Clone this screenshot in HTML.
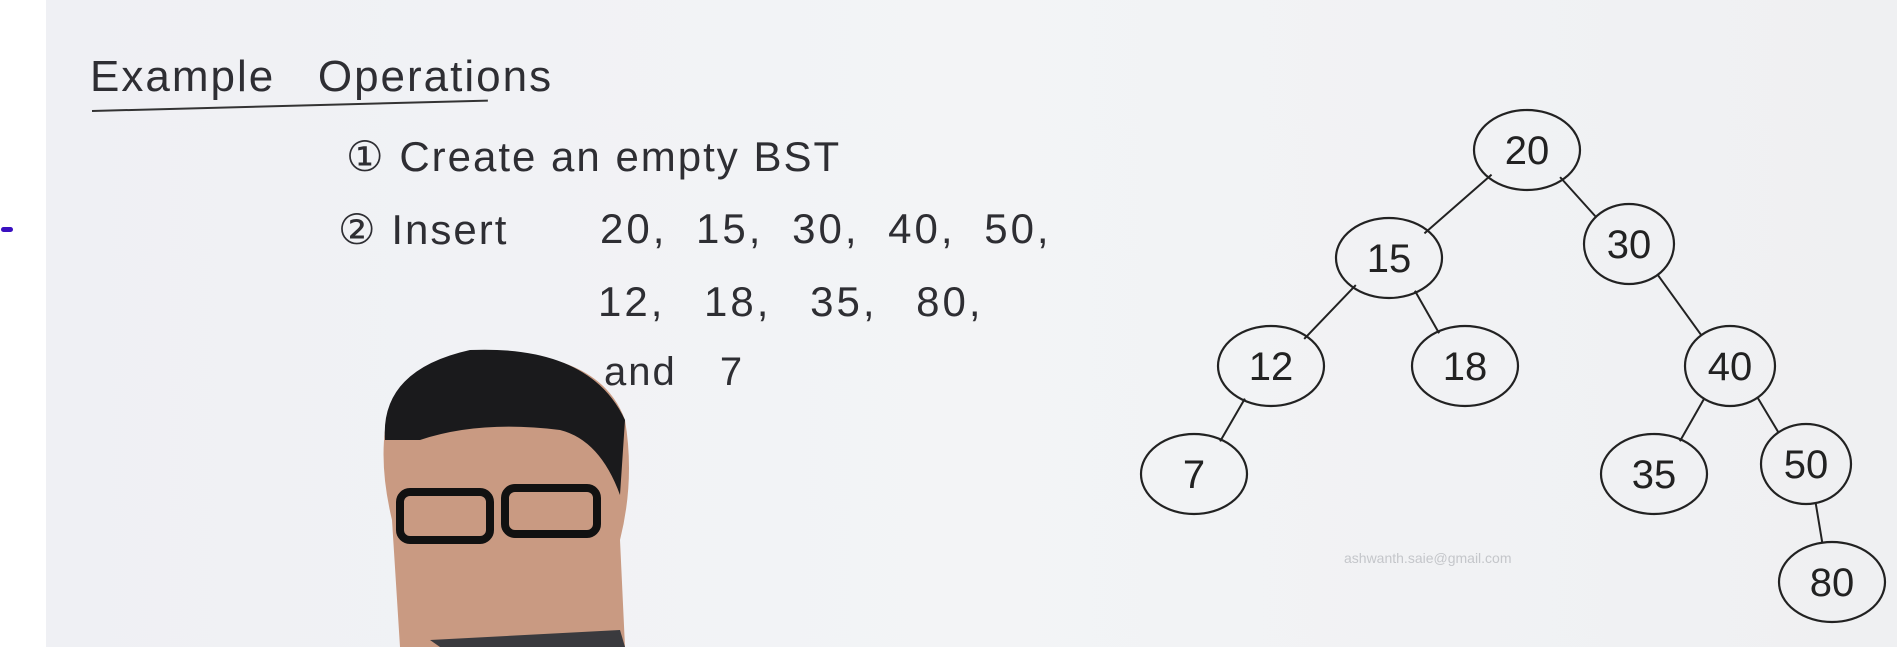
<!DOCTYPE html>
<html><head><meta charset="utf-8"><style>
html,body{margin:0;padding:0}
body{width:1897px;height:647px;overflow:hidden;position:relative;background:#fff;font-family:"Liberation Sans",sans-serif}
#board{position:absolute;left:46px;top:0;width:1851px;height:647px;background:linear-gradient(90deg,#eff0f4,#f3f4f6 50%,#eff0f2)}
.t{position:absolute;color:#2e2e33;white-space:nowrap;font-family:"Liberation Sans",sans-serif;letter-spacing:2px}
</style></head><body>
<div id="board"></div>
<div style="position:absolute;left:1px;top:227px;width:12px;height:5px;border-radius:3px;background:#3a10c0"></div>
<div class="t" style="left:90px;top:52px;font-size:44px;">Example&nbsp;&nbsp; Operations</div>
<div style="position:absolute;left:92px;top:110px;width:396px;height:2px;background:#333;transform:rotate(-1.5deg);transform-origin:left"></div>
<div class="t" style="left:346px;top:132px;font-size:42px;">① Create an empty BST</div>
<div class="t" style="left:338px;top:205px;font-size:42px;">② Insert</div>
<div class="t" style="left:600px;top:205px;font-size:42px;letter-spacing:3px;word-spacing:14px">20, 15, 30, 40, 50,</div>
<div class="t" style="left:598px;top:278px;font-size:42px;letter-spacing:3px;word-spacing:24px">12, 18, 35, 80,</div>
<div class="t" style="left:604px;top:350px;font-size:40px;word-spacing:30px">and 7</div>
<div class="t" style="left:1344px;top:550px;font-size:14px;color:#c4c6ca;letter-spacing:0">ashwanth.saie@gmail.com</div>
<svg style="position:absolute;left:0;top:0" width="1897" height="647">
<path d="M400 647 L392 520 Q380 470 385 430 Q400 360 480 352 Q600 350 625 420 Q635 480 620 540 L625 647Z" fill="#c99a82"/>
<path d="M385 440 Q380 370 470 350 Q590 345 625 420 L620 495 Q600 440 560 430 Q480 420 420 440Z" fill="#1a1a1c"/>
<rect x="400" y="492" width="90" height="48" rx="10" fill="none" stroke="#111" stroke-width="8"/>
<rect x="505" y="488" width="92" height="46" rx="10" fill="none" stroke="#111" stroke-width="8"/>
<path d="M430 640 L440 647 L625 647 L620 630Z" fill="#3a3a3e"/>
</svg>
<svg id="tree" style="position:absolute;left:0;top:0" width="1897" height="647"></svg>
<script>
const keys=[20,15,30,12,18,40,7,35,50,80];
const parents=[null,20,20,15,15,30,12,40,40,50];
const depth=[0,1,1,2,2,2,3,3,3,4];
const col=[1527,1389,1629,1271,1465,1730,1194,1654,1806,1832];
const yScale=d=>150+d*108;
const svg=document.getElementById('tree');
const NS='http://www.w3.org/2000/svg';
const pos={};
keys.forEach((k,i)=>{pos[k]={x:col[i],y:yScale(depth[i])-(k===50?10:0)-(k===30?14:0)};});
keys.forEach((k,i)=>{
  const p=parents[i]; if(p===null)return;
  const a=pos[p],b=pos[k];
  const dx=b.x-a.x,dy=b.y-a.y,L=Math.hypot(dx,dy);
  const l=document.createElementNS(NS,'line');
  
  
  l.setAttribute('x1',a.x+dx/L*45);l.setAttribute('y1',a.y+dy/L*40);
  l.setAttribute('x2',b.x-dx/L*45);l.setAttribute('y2',b.y-dy/L*40);
  l.setAttribute('stroke','#222');l.setAttribute('stroke-width','2');
  svg.appendChild(l);
});
keys.forEach((k,i)=>{
  const g=document.createElementNS(NS,'g');
  
  
  const e=document.createElementNS(NS,'ellipse');
  e.setAttribute('cx',pos[k].x);e.setAttribute('cy',pos[k].y);
  e.setAttribute('rx',k===30||k===40||k===50?45:53);e.setAttribute('ry',40);
  e.setAttribute('fill','none');e.setAttribute('stroke','#222');e.setAttribute('stroke-width','2.2');
  g.appendChild(e);
  const t=document.createElementNS(NS,'text');
  t.setAttribute('x',pos[k].x);t.setAttribute('y',pos[k].y+14);
  t.setAttribute('text-anchor','middle');t.setAttribute('font-size','40');
  t.setAttribute('font-family','Liberation Sans, sans-serif');t.setAttribute('fill','#222');
  t.textContent=k;g.appendChild(t);
  svg.appendChild(g);
});
</script>
</body></html>
